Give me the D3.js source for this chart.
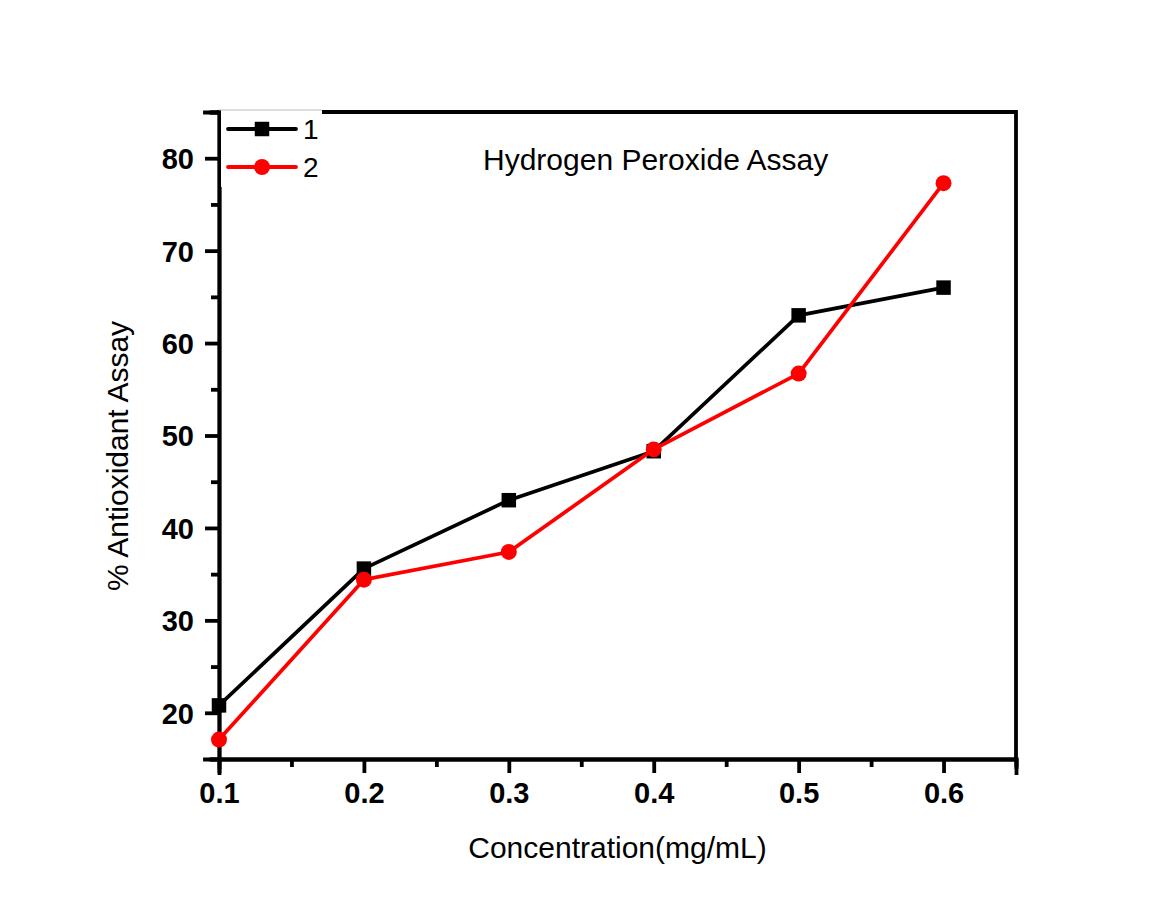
<!DOCTYPE html>
<html>
<head>
<meta charset="utf-8">
<script src="https://cdn.jsdelivr.net/npm/d3@7"></script>
<style>
  body { margin: 0; background: white; }
  svg { display: block; }
</style>
</head>
<body>
<svg id="mainSvg" width="1161" height="899"></svg>
<script>
// data
var concentration = [0.1, 0.2, 0.3, 0.4, 0.5, 0.6];
var series1 = [20.8, 35.6, 43.0, 48.3, 63.0, 66.0];
var series2 = [17.1, 34.4, 37.4, 48.5, 56.7, 77.3];
var seriesNames = ["1", "2"];
var xTicks = [0.1, 0.2, 0.3, 0.4, 0.5, 0.6];
var xMinorTicks = [0.15, 0.25, 0.35, 0.45, 0.55, 0.65];
var yTicks = [20, 30, 40, 50, 60, 70, 80];
var yMinorTicks = [15, 25, 35, 45, 55, 65, 75, 85];

var font = "'Liberation Sans', Arial, sans-serif";
var plotLeft = 219, plotRight = 1016, plotTop = 112, plotBottom = 759;
var frameWidth = 3.8;

var svg = d3.select("#mainSvg");

var x = d3.scaleLinear().domain([0.1, 0.65]).range([plotLeft, plotRight]);
var y = d3.scaleLinear().domain([15, 85]).range([plotBottom, plotTop]);

function drawAxes(){
  // minor ticks first so major ones sit on top
  svg.append("g")
    .attr("transform", "translate(0," + plotBottom + ")")
    .call(d3.axisBottom(x).tickValues(xMinorTicks).tickSize(8).tickFormat(""))
    .call(styleAxis);
  svg.append("g")
    .attr("transform", "translate(" + plotLeft + ",0)")
    .call(d3.axisLeft(y).tickValues(yMinorTicks).tickSize(8).tickFormat(""))
    .call(styleAxis);

  svg.append("g")
    .attr("transform", "translate(0," + plotBottom + ")")
    .call(d3.axisBottom(x).tickValues(xTicks).tickSize(14).tickPadding(9).tickFormat(d3.format(".1f")))
    .call(styleAxis);
  var ya = svg.append("g")
    .attr("transform", "translate(" + plotLeft + ",0)")
    .call(d3.axisLeft(y).tickValues(yTicks).tickSize(14).tickPadding(11).tickFormat(d3.format("d")))
    .call(styleAxis);
  ya.selectAll("text").attr("dy", "0.36em");

  // top and right frame
  svg.append("path")
    .attr("d", "M" + plotLeft + "," + plotTop + "H" + plotRight + "V" + plotBottom)
    .style("fill", "none")
    .style("stroke", "black")
    .style("stroke-width", frameWidth)
    .style("stroke-linecap", "square");
}

function styleAxis(g){
  g.select(".domain")
    .style("stroke", "black")
    .style("stroke-width", frameWidth)
    .attr("stroke-linecap", "square");
  g.selectAll(".tick line")
    .style("stroke", "black")
    .style("stroke-width", frameWidth);
  g.selectAll(".tick text")
    .style("fill", "black")
    .style("font-family", font)
    .style("font-weight", "bold")
    .style("font-size", "29px");
}

function drawSeries(values, colour, shape){
  var pts = concentration.map(function(c, i){ return [c, values[i]]; });
  var line = d3.line()
    .x(function(d){ return x(d[0]); })
    .y(function(d){ return y(d[1]); });
  svg.append("path")
    .datum(pts)
    .attr("d", line)
    .style("fill", "none")
    .style("stroke", colour)
    .style("stroke-width", 3.7)
    .style("stroke-linejoin", "round");
  svg.append("g").selectAll("path")
    .data(pts)
    .enter().append("path")
      .attr("transform", function(d){ return "translate(" + x(d[0]) + "," + y(d[1]) + ")"; })
      .attr("d", shape)
      .style("fill", colour);
}

var squareSym = d3.symbol().type(d3.symbolSquare).size(210)();
var circleSym = d3.symbol().type(d3.symbolCircle).size(200)();

function drawLegend(){
  // white box over the top frame line
  svg.append("rect")
    .attr("x", plotLeft + 2)
    .attr("y", plotTop - 3)
    .attr("width", 322 - plotLeft - 2)
    .attr("height", 78)
    .style("fill", "white");
  svg.append("line")
    .attr("x1", plotLeft)
    .attr("x2", 322)
    .attr("y1", plotTop - 2)
    .attr("y2", plotTop - 2)
    .style("stroke", "#bbbbbb")
    .style("stroke-width", 1);

  var entries = [
    {name: seriesNames[0], colour: "black", shape: squareSym, y: 129},
    {name: seriesNames[1], colour: "#ff0000", shape: circleSym, y: 167}
  ];
  var g = svg.append("g").selectAll("g")
    .data(entries)
    .enter().append("g");
  g.append("line")
    .attr("x1", 228).attr("x2", 296)
    .attr("y1", function(d){ return d.y; })
    .attr("y2", function(d){ return d.y; })
    .style("stroke", function(d){ return d.colour; })
    .style("stroke-width", 3.8)
    .style("stroke-linecap", "round");
  g.append("path")
    .attr("transform", function(d){ return "translate(262," + d.y + ")"; })
    .attr("d", function(d){ return d.shape; })
    .style("fill", function(d){ return d.colour; });
  g.append("text")
    .attr("x", 303)
    .attr("y", function(d){ return d.y + 10; })
    .style("font-family", font)
    .style("font-size", "28px")
    .text(function(d){ return d.name; });
}

function drawLabels(){
  svg.append("text")
    .attr("x", 483)
    .attr("y", 170)
    .style("font-family", font)
    .style("font-size", "30px")
    .text("Hydrogen Peroxide Assay");
  svg.append("text")
    .attr("x", (plotLeft + plotRight) / 2)
    .attr("y", 858)
    .attr("text-anchor", "middle")
    .style("font-family", font)
    .style("font-size", "30px")
    .text("Concentration(mg/mL)");
  svg.append("text")
    .attr("transform", "translate(128,456) rotate(-90)")
    .attr("text-anchor", "middle")
    .style("font-family", font)
    .style("font-size", "30px")
    .text("% Antioxidant Assay");
}

drawAxes();
drawSeries(series1, "black", squareSym);
drawSeries(series2, "#ff0000", circleSym);
drawLegend();
drawLabels();
</script>
</body>
</html>
